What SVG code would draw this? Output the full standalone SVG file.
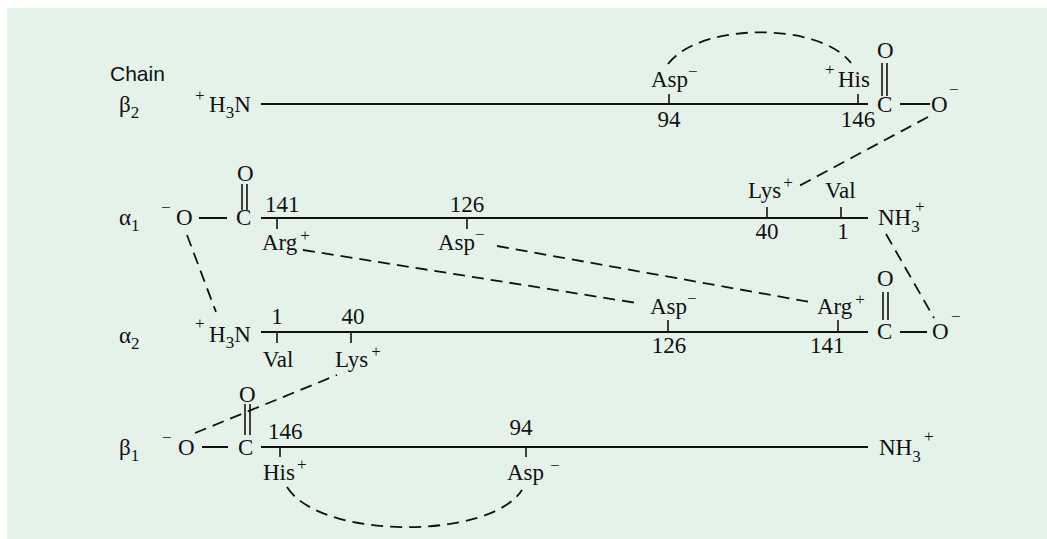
<svg xmlns="http://www.w3.org/2000/svg" width="1047" height="539" viewBox="0 0 1047 539">
<style>
text{font-family:"Liberation Serif","Times New Roman",serif;font-size:23px;fill:#111}
.lbl{font-family:"Liberation Sans",Arial,sans-serif;font-size:21px}
.sup{font-size:17px}
.sub{font-size:17px}
.mid{text-anchor:middle}
.bb{stroke:#111;stroke-width:2;fill:none}
.tk{stroke:#111;stroke-width:1.6;fill:none}
.dash{stroke:#111;stroke-width:1.8;fill:none;stroke-dasharray:12 7}
</style>
<rect x="7" y="8" width="1040" height="531" fill="#e4f2ea"/>
<text class="lbl" x="110" y="81">Chain</text>

<g id="beta2">
<text x="119" y="112">β<tspan class="sub" dy="6">2</tspan></text>
<text class="sup" x="195" y="101">+</text>
<text x="209" y="112">H<tspan class="sub" dy="6">3</tspan><tspan dy="-6">N</tspan></text>
<line class="bb" x1="261" y1="104" x2="868" y2="104"/>
<line class="tk" x1="669" y1="94" x2="669" y2="104"/>
<text x="651" y="87">Asp<tspan class="sup" dy="-10">−</tspan></text>
<text class="mid" x="669" y="127">94</text>
<line class="tk" x1="858" y1="94" x2="858" y2="104"/>
<text class="sup" x="825" y="75">+</text>
<text x="838" y="87">His</text>
<text class="mid" x="858" y="127">146</text>
<text x="877" y="112">C</text>
<text x="877" y="58">O</text>
<line class="tk" x1="882" y1="63" x2="882" y2="96"/>
<line class="tk" x1="887" y1="63" x2="887" y2="96"/>
<line class="bb" x1="900" y1="104" x2="930" y2="104"/>
<text x="931" y="112">O</text>
<text class="sup" x="949" y="95">−</text>
</g>

<g id="alpha1">
<text x="119" y="225">α<tspan class="sub" dy="6">1</tspan></text>
<text class="sup" x="161" y="213">−</text>
<text x="176" y="225">O</text>
<line class="bb" x1="199" y1="218" x2="227" y2="218"/>
<text x="236" y="225">C</text>
<text x="237" y="181">O</text>
<line class="tk" x1="242" y1="184" x2="242" y2="210"/>
<line class="tk" x1="247" y1="184" x2="247" y2="210"/>
<line class="bb" x1="261" y1="218" x2="868" y2="218"/>
<line class="tk" x1="277" y1="218" x2="277" y2="229"/>
<text x="265" y="212">141</text>
<text x="262" y="250">Arg<tspan class="sup" dx="3" dy="-9">+</tspan></text>
<line class="tk" x1="467" y1="218" x2="467" y2="229"/>
<text class="mid" x="467" y="212">126</text>
<text x="438" y="250">Asp<tspan class="sup" dy="-10">−</tspan></text>
<line class="tk" x1="767" y1="207" x2="767" y2="218"/>
<text x="748" y="198">Lys<tspan class="sup" dx="2" dy="-10">+</tspan></text>
<text class="mid" x="767" y="239">40</text>
<line class="tk" x1="841" y1="207" x2="841" y2="218"/>
<text x="825" y="198">Val</text>
<text class="mid" x="843" y="239">1</text>
<text x="878" y="225">NH<tspan class="sub" dy="7">3</tspan></text>
<text class="sup" x="915" y="212">+</text>
</g>

<g id="alpha2">
<text x="119" y="343">α<tspan class="sub" dy="6">2</tspan></text>
<text class="sup" x="195" y="329">+</text>
<text x="209" y="342">H<tspan class="sub" dy="6">3</tspan><tspan dy="-6">N</tspan></text>
<line class="bb" x1="261" y1="332" x2="868" y2="332"/>
<line class="tk" x1="277" y1="332" x2="277" y2="343"/>
<text class="mid" x="277" y="324">1</text>
<text class="mid" x="278" y="367">Val</text>
<line class="tk" x1="351" y1="332" x2="351" y2="343"/>
<text class="mid" x="353" y="324">40</text>
<text x="335" y="367">Lys<tspan class="sup" dx="3" dy="-10">+</tspan></text>
<line class="tk" x1="668" y1="320" x2="668" y2="332"/>
<text x="650" y="314">Asp<tspan class="sup" dy="-10">−</tspan></text>
<text class="mid" x="669" y="353">126</text>
<line class="tk" x1="838" y1="320" x2="838" y2="332"/>
<text x="817" y="314">Arg<tspan class="sup" dx="3" dy="-9">+</tspan></text>
<text x="810" y="353">141</text>
<text x="877" y="339">C</text>
<text x="877" y="286">O</text>
<line class="tk" x1="883" y1="292" x2="883" y2="320"/>
<line class="tk" x1="888" y1="292" x2="888" y2="320"/>
<line class="bb" x1="900" y1="332" x2="927" y2="332"/>
<text x="932" y="339">O</text>
<text class="sup" x="951" y="322">−</text>
</g>

<g id="beta1">
<text x="119" y="455">β<tspan class="sub" dy="6">1</tspan></text>
<text class="sup" x="162" y="443">−</text>
<text x="178" y="455">O</text>
<line class="bb" x1="202" y1="447" x2="228" y2="447"/>
<text x="238" y="455">C</text>
<text x="239" y="402">O</text>
<line class="tk" x1="245" y1="404" x2="245" y2="435"/>
<line class="tk" x1="250" y1="404" x2="250" y2="435"/>
<line class="bb" x1="261" y1="447" x2="868" y2="447"/>
<line class="tk" x1="280" y1="447" x2="280" y2="457"/>
<text x="268" y="439">146</text>
<text x="263" y="480">His<tspan class="sup" dx="2" dy="-10">+</tspan></text>
<line class="tk" x1="526" y1="447" x2="526" y2="457"/>
<text class="mid" x="521" y="435">94</text>
<text x="507" y="480">Asp<tspan class="sup" dx="6" dy="-9">−</tspan></text>
<text x="879" y="455">NH<tspan class="sub" dy="7">3</tspan></text>
<text class="sup" x="924" y="442">+</text>
</g>

<g id="connectors">
<path class="dash" d="M668 64 C700 22 820 22 851 63"/>
<line class="dash" x1="928" y1="117" x2="797" y2="187"/>
<line class="dash" x1="303" y1="250" x2="637" y2="303"/>
<line class="dash" x1="497" y1="246" x2="810" y2="302"/>
<line class="dash" x1="886" y1="234" x2="934" y2="318"/>
<line class="dash" x1="187" y1="235" x2="216" y2="312"/>
<line class="dash" x1="195" y1="433" x2="337" y2="375"/>
<path class="dash" d="M287 487 C320 540 490 540 522 490"/>
</g>
</svg>
